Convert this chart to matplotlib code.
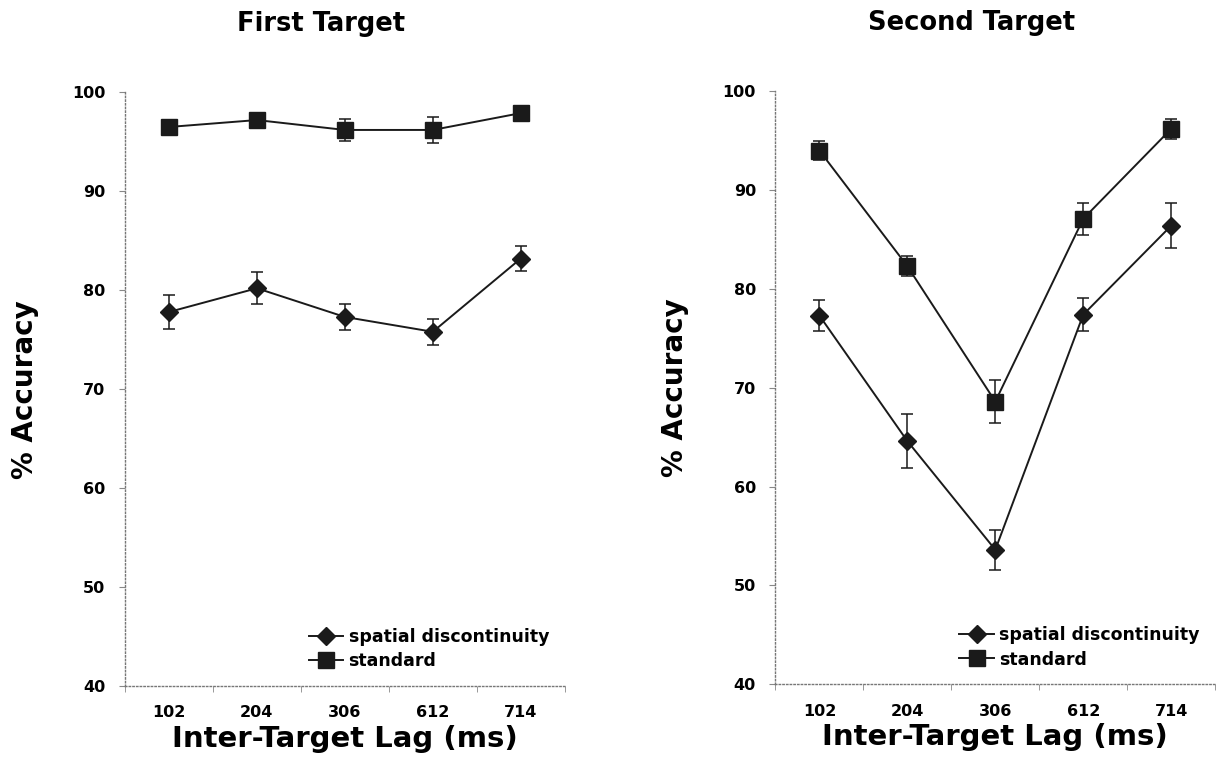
import numpy as np
import matplotlib.pyplot as plt
from matplotlib.lines import Line2D

lags = ["102", "204", "306", "612", "714"]

first_spatial = [77.8, 80.2, 77.3, 75.8, 83.2]
first_spatial_err = [1.7, 1.6, 1.3, 1.3, 1.3]
first_standard = [96.5, 97.2, 96.2, 96.2, 97.9]
first_standard_err = [0.6, 0.5, 1.1, 1.3, 0.6]

second_spatial = [77.3, 64.6, 53.6, 77.4, 86.4]
second_spatial_err = [1.6, 2.7, 2.0, 1.7, 2.3]
second_standard = [94.0, 82.3, 68.6, 87.1, 96.2]
second_standard_err = [1.0, 1.0, 2.2, 1.6, 1.0]

plt.rcParams["font.family"] = "DejaVu Sans"
plt.rcParams["font.weight"] = "bold"

fig = plt.figure(figsize=(12.25, 7.67), dpi=100)
ax1 = fig.add_axes([0.102, 0.1056, 0.359, 0.774])
ax2 = fig.add_axes([0.633, 0.108, 0.359, 0.773])

panels = [
    (ax1, "First Target", first_spatial, first_spatial_err, first_standard, first_standard_err),
    (ax2, "Second Target", second_spatial, second_spatial_err, second_standard, second_standard_err),
]

col = "#1a1a1a"
x = np.arange(len(lags))
for ax, title, sp, sp_err, st, st_err in panels:
    ax.errorbar(x, sp, yerr=sp_err, color=col, marker="D", markersize=9,
                linewidth=1.4, capsize=4.5, elinewidth=1.1, capthick=1.1)
    ax.errorbar(x, st, yerr=st_err, color=col, marker="s", markersize=11,
                linewidth=1.4, capsize=4.5, elinewidth=1.1, capthick=1.1)
    ax.set_xlim(-0.5, len(lags) - 0.5)
    ax.set_ylim(40, 100)
    ax.set_yticks(range(40, 101, 10))
    ax.set_xticks(x)
    ax.set_xticklabels(lags)
    ax.set_xticks(np.arange(-0.5, len(lags), 1.0), minor=True)
    ax.tick_params(axis="x", which="major", length=0, labelsize=11.5, pad=14)
    ax.tick_params(axis="x", which="minor", length=4, color="#888888")
    ax.tick_params(axis="y", length=4, color="#888888", labelsize=11.5, pad=10)
    for lab in ax.get_xticklabels() + ax.get_yticklabels():
        lab.set_fontweight("bold")
    for s in ["top", "right"]:
        ax.spines[s].set_visible(False)
    for s in ["left", "bottom"]:
        ax.spines[s].set_linestyle(":")
        ax.spines[s].set_color("#777777")
        ax.spines[s].set_linewidth(1.0)
    ax.set_title(title, fontsize=18.5, fontweight="bold", pad=44, x=0.447)
    ax.set_ylabel("% Accuracy", fontsize=20, fontweight="bold", labelpad=24)
    ax.set_xlabel("Inter-Target Lag (ms)", fontsize=21, fontweight="bold", labelpad=3)
    handles = [
        Line2D([], [], color=col, marker="D", markersize=9, linewidth=1.4),
        Line2D([], [], color=col, marker="s", markersize=11, linewidth=1.4),
    ]
    leg = ax.legend(handles, ["spatial discontinuity", "standard"],
                    loc="lower right", frameon=False, fontsize=12.5,
                    handlelength=2.0, handletextpad=0.3, labelspacing=0.35,
                    borderaxespad=0.5)
    for t in leg.get_texts():
        t.set_fontweight("bold")

fig.savefig("out.png", dpi=100)
